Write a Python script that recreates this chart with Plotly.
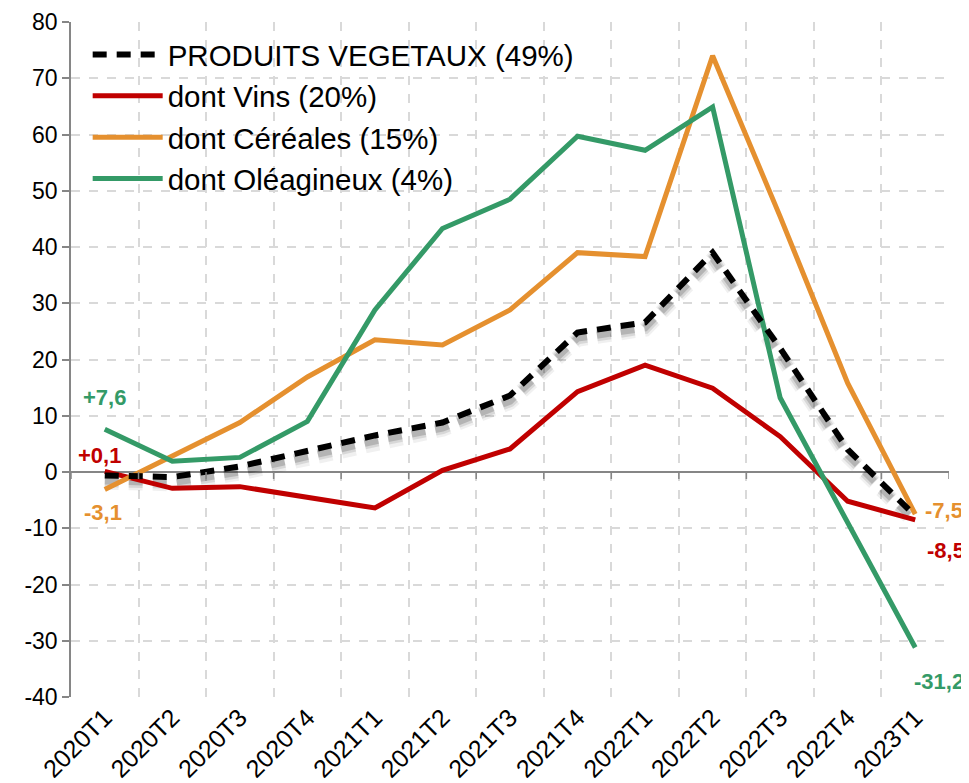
import plotly.graph_objects as go

quarters = ["2020T1", "2020T2", "2020T3", "2020T4", "2021T1", "2021T2", "2021T3",
            "2021T4", "2022T1", "2022T2", "2022T3", "2022T4", "2023T1"]

vegetaux = [-0.6, -0.9, 1.0, 3.8, 6.5, 8.8, 13.6, 24.8, 26.6, 39.0, 22.0, 4.0, -7.8]
vins = [0.1, -2.9, -2.6, -4.4, -6.4, 0.3, 4.1, 14.3, 19.0, 14.9, 6.3, -5.2, -8.5]
cereales = [-3.1, 2.8, 8.8, 16.9, 23.5, 22.6, 28.8, 39.0, 38.3, 74.0, 45.4, 15.8, -7.5]
oleagineux = [7.6, 1.9, 2.6, 9.0, 28.8, 43.3, 48.5, 59.7, 57.2, 64.9, 13.2, -8.8, -31.2]

names = ["PRODUITS VEGETAUX (49%)", "dont Vins (20%)", "dont Céréales (15%)", "dont Oléagineux (4%)"]

y_ticks = [-40, -30, -20, -10, 0, 10, 20, 30, 40, 50, 60, 70, 80]
y_tick_text = [str(v) for v in y_ticks]

C_BLACK = "#000000"
C_RED = "#C00000"
C_ORANGE = "#E5902F"
C_GREEN = "#349A67"

FONT = "Liberation Sans, Arial, sans-serif"

fig = go.Figure()

# soft shadow under the aggregate line
for w, a, off in [(15, 0.06, 1.2), (11, 0.10, 1.1), (7, 0.16, 1.0)]:
    fig.add_trace(go.Scatter(
        x=quarters, y=[v - off for v in vegetaux], mode="lines",
        line=dict(color=f"rgba(0,0,0,{a})", width=w, dash="14px,10px"),
        showlegend=False, hoverinfo="skip"))

fig.add_trace(go.Scatter(x=quarters, y=vins, mode="lines", name=names[1],
                         line=dict(color=C_RED, width=5), legendrank=2))
fig.add_trace(go.Scatter(x=quarters, y=cereales, mode="lines", name=names[2],
                         line=dict(color=C_ORANGE, width=5), legendrank=3))
fig.add_trace(go.Scatter(x=quarters, y=oleagineux, mode="lines", name=names[3],
                         line=dict(color=C_GREEN, width=5), legendrank=4))
fig.add_trace(go.Scatter(x=quarters, y=vegetaux, mode="lines", name=names[0],
                         line=dict(color=C_BLACK, width=6, dash="14px,10px"), legendrank=1))


def fmt(v):
    return f"{v:+.1f}".replace(".", ",")


annots = []
# left labels (first quarter)
for series, col, dx, dy in [(oleagineux, C_GREEN, 0, 32), (vins, C_RED, -5, 16), (cereales, C_ORANGE, -2, -23)]:
    annots.append(dict(x=quarters[0], y=series[0], text=f"<b>{fmt(series[0])}</b>",
                       showarrow=False, xshift=dx, yshift=dy,
                       font=dict(family=FONT, size=22, color=col)))
# right labels (last quarter)
for series, col, dx, dy in [(cereales, C_ORANGE, 29, 4), (vins, C_RED, 31, -31), (oleagineux, C_GREEN, 24, -34)]:
    annots.append(dict(x=quarters[-1], y=series[-1], text=f"<b>{fmt(series[-1])}</b>",
                       showarrow=False, xshift=dx, yshift=dy,
                       font=dict(family=FONT, size=22, color=col)))

# tick marks on the zero line at category boundaries
shapes = []
for i in range(len(quarters) + 1):
    shapes.append(dict(type="line", xref="x", yref="y", x0=i - 0.5, x1=i - 0.5,
                       ysizemode="pixel", yanchor=0, y0=0, y1=-7,
                       line=dict(color="#868686", width=1.5)))

fig.update_layout(
    width=961, height=775,
    margin=dict(l=63, r=20, t=14, b=86, autoexpand=False),
    paper_bgcolor="white", plot_bgcolor="white",
    font=dict(family=FONT, color="black"),
    showlegend=True,
    legend=dict(x=0.019, y=0.99, xanchor="left", yanchor="top",
                bgcolor="rgba(0,0,0,0)", font=dict(family=FONT, size=29.5, color="black"),
                itemwidth=70, tracegroupgap=0),
    annotations=annots,
    shapes=shapes,
)

fig.update_xaxes(
    type="category", range=[-0.5, len(quarters) - 0.5], automargin=False,
    tickson="boundaries", ticks="", showline=False,
    showgrid=True, gridcolor="#D9D9D9", griddash="dash", gridwidth=1.5,
    tickangle=-45, tickfont=dict(family=FONT, size=25, color="black"),
    zeroline=False,
)
fig.update_yaxes(
    range=[-40, 80], tickvals=y_ticks, ticktext=y_tick_text, automargin=False,
    ticks="outside", ticklen=7, tickcolor="#868686", tickwidth=1.5,
    showline=True, linecolor="#868686", linewidth=1.5,
    showgrid=True, gridcolor="#D9D9D9", griddash="dash", gridwidth=1.5,
    zeroline=True, zerolinecolor="#868686", zerolinewidth=2,
    tickfont=dict(family=FONT, size=23, color="black"),
)

fig.write_html("out.html")
